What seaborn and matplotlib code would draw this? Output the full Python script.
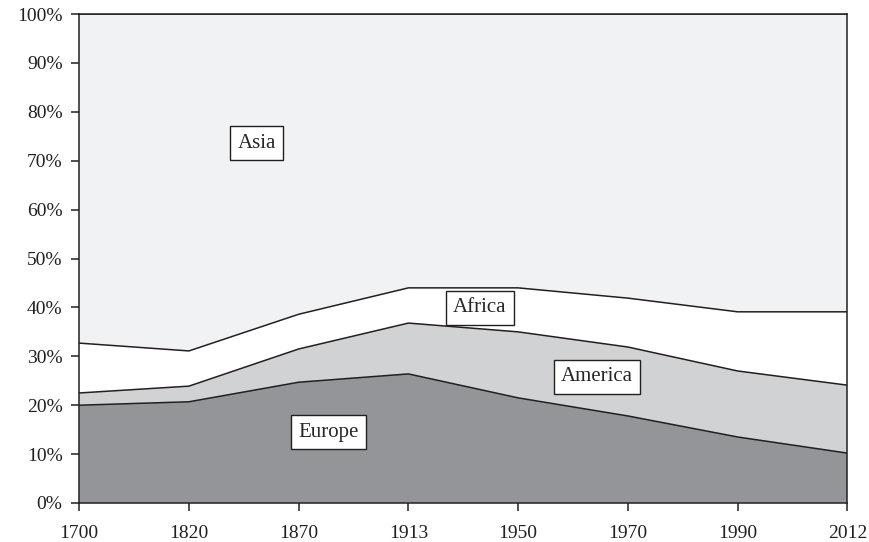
import numpy as np
import matplotlib
matplotlib.use("Agg")
import matplotlib.pyplot as plt
import seaborn as sns

# share of world output (%) by region
years = ["1700", "1820", "1870", "1913", "1950", "1970", "1990", "2012"]
europe = [20.0, 20.7, 24.7, 26.4, 21.5, 17.8, 13.5, 10.2]
america = [2.5, 3.2, 6.8, 10.4, 13.5, 14.1, 13.5, 13.9]
africa = [10.2, 7.2, 7.1, 7.2, 9.0, 10.0, 12.1, 15.0]
asia = [100 - e - am - af for e, am, af in zip(europe, america, africa)]

region_names = ["Europe", "America", "Africa", "Asia"]
region_colors = ["#939598", "#d1d2d4", "#ffffff", "#f1f2f4"]

sns.set_style("ticks")
plt.rcParams["font.family"] = ["Liberation Serif", "DejaVu Serif"]

fig = plt.figure(figsize=(8.7, 5.42), dpi=100)
ax = fig.add_axes([0.091, 0.072, 0.883, 0.902])

x = np.arange(len(years))
polys = ax.stackplot(x, europe, america, africa, asia, colors=region_colors,
                     edgecolor="none")

# boundary lines between regions
cum = np.cumsum([europe, america, africa, asia], axis=0)
for row in cum:
    ax.plot(x, row, color="#231f20", lw=1.1)

ax.set_xlim(0, len(years) - 1)
ax.set_ylim(0, 100)
ax.set_xticks(x)
ax.set_xticklabels(years)
ax.set_yticks(np.arange(0, 101, 10))
ax.set_yticklabels([f"{v}%" for v in range(0, 101, 10)])
ax.tick_params(labelsize=14, length=6, width=1.1, color="#231f20", colors="#231f20")
ax.tick_params(axis="x", pad=10)
ax.tick_params(axis="y", pad=6)
for s in ax.spines.values():
    s.set_color("#231f20")
    s.set_linewidth(1.1)

box = dict(boxstyle="square,pad=0.35", fc="white", ec="#231f20", lw=1)
ax.text(1.62, 73.6, "Asia", ha="center", va="center", fontsize=15, bbox=box)
ax.text(3.65, 39.9, "Africa", ha="center", va="center", fontsize=15, bbox=box)
ax.text(4.72, 25.8, "America", ha="center", va="center", fontsize=15, bbox=box)
ax.text(2.27, 14.5, "Europe", ha="center", va="center", fontsize=15, bbox=box)

fig.savefig("out.png", dpi=100)
